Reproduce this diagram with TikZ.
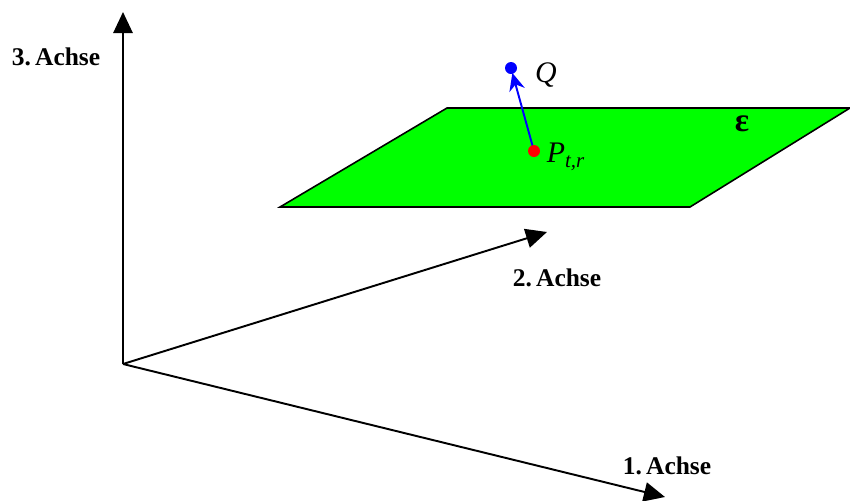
\documentclass[tikz,border=0pt]{standalone}
\usepackage{fontspec}
\setmainfont{Liberation Serif}
\usetikzlibrary{arrows.meta,calc}
\tikzset{
  achse/.style={line width=1.1pt, -{Triangle[length=12pt, width=11pt]}},
  lbl/.style={font=\fontsize{14.5}{17}\selectfont\bfseries},
}
\begin{document}
\begin{tikzpicture}[x=0.02cm, y=-0.02cm]
	\useasboundingbox (0,0) rectangle (850,501);
	\coordinate (O) at (123,364);
	\coordinate (E1) at (665,497);
	\coordinate (E2) at (547,232);
	\coordinate (E3) at (123,12);
	\coordinate (A) at (280,207);
	\coordinate (B) at (690,207);
	\coordinate (C) at (850,108);
	\coordinate (D) at (447,108);
	\coordinate (P) at (534,151);
	\coordinate (Q) at (511,68);
	% Ebene
	\draw[line width=0.9pt, fill=green] (A) -- (B) -- (C) -- (D) -- cycle;
	\node[font=\fontsize{19}{21}\selectfont\bfseries] (eps) at (742,124) {ε};
	% Achsen
	\draw[achse] (O) -- (E3);
	\draw[achse] (O) -- (E2);
	\draw[achse] (O) -- (E1);
	\node[lbl] (l3) at (56,57) {3.\,Achse};
	\node[lbl] (l2) at (557,278) {2.\,Achse};
	\node[lbl] (l1) at (667,466) {1.\,Achse};
	% Punkte
	\fill[blue] (Q) circle (6);
	\draw[blue, line width=1.1pt, -{Stealth[length=10pt, width=9pt]}] (P) -- ($(Q)!0.06!(P)$);
	\fill[red] (P) circle (6);
	\node[font=\fontsize{17}{19}\selectfont\itshape] (lq) at (546,75) {Q};
	\node[font=\fontsize{17}{19}\selectfont\itshape] (lp) at (566,157) {P\textsubscript{t,r}};
\end{tikzpicture}
\end{document}
